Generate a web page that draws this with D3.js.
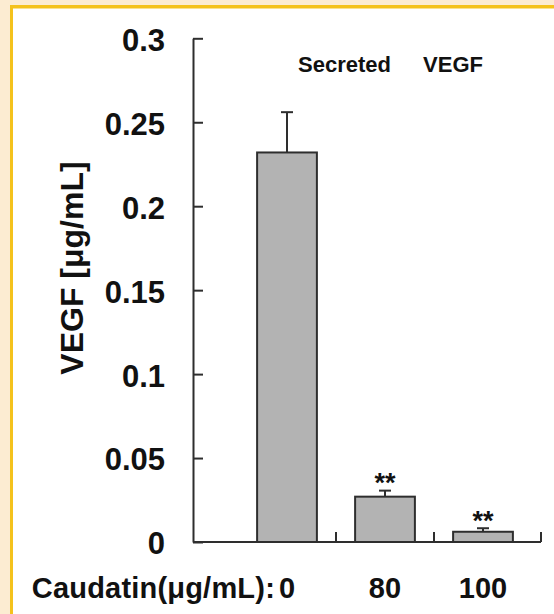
<!DOCTYPE html>
<html>
<head>
<meta charset="utf-8">
<script src="https://cdn.jsdelivr.net/npm/d3@7"></script>
<style>
  body { margin: 0; background: #fcecd2; }
  svg { display: block; font-family: "Liberation Sans", Arial, sans-serif; font-weight: bold; }
</style>
</head>
<body>
<div id="chart"></div>
<script>
// data
var categories = ["0", "80", "100"];
var means = [0.232, 0.027, 0.0061];
var errors = [0.024, 0.0036, 0.0021];
var marks = ["", "**", "**"];
var yTicks = [0, 0.05, 0.1, 0.15, 0.2, 0.25, 0.3];
var yTickLabels = ["0", "0.05", "0.1", "0.15", "0.2", "0.25", "0.3"];

var width = 554, height = 614;

var svg = d3.select("#chart").append("svg")
            .attr("width", width)
            .attr("height", height);

// frame: cream outside, yellow rule, white panel
svg.append("rect").attr("x", 10).attr("y", 5).attr("width", width - 10).attr("height", height - 5).attr("fill", "#f4c21c");
svg.append("rect").attr("x", 13).attr("y", 8.5).attr("width", width - 13).attr("height", height - 8.5).attr("fill", "#ffffff");

var x0 = 193, xEnd = 541;
var x = d3.scaleBand()
          .domain(categories)
          .range([238, 532])
          .padding(0);
var bw = x.step() * 0.61;

var y = d3.scaleLinear()
          .domain([0, 0.3])
          .range([542, 38.3]);

var ink = "#2e2e2e";

// y axis, ticks pointing inward
var yAxis = svg.append("g")
               .attr("transform", "translate(" + x0 + ",0)")
               .call(d3.axisRight(y).tickValues(yTicks).tickSize(10).tickSizeOuter(0).tickFormat(""));
yAxis.select(".domain").attr("stroke", ink).attr("stroke-width", 2);
yAxis.selectAll(".tick line").attr("stroke", ink).attr("stroke-width", 2);

svg.append("g").selectAll("text")
   .data(yTicks)
   .enter().append("text")
   .attr("x", 165)
   .attr("y", function(d) { return y(d); })
   .attr("dy", "0.4em")
   .attr("text-anchor", "end")
   .style("font-size", "31px")
   .attr("fill", "#111")
   .text(function(d, i) { return yTickLabels[i]; });

// x axis line with upward separators
svg.append("line")
   .attr("x1", x0).attr("x2", xEnd)
   .attr("y1", y(0)).attr("y2", y(0))
   .attr("stroke", ink).attr("stroke-width", 2);

var seps = categories.slice(1).map(function(c) { return x(c); });
seps.push(xEnd);
svg.append("g").selectAll("line")
   .data(seps)
   .enter().append("line")
   .attr("x1", function(d) { return d; })
   .attr("x2", function(d) { return d; })
   .attr("y1", y(0))
   .attr("y2", y(0) - 10)
   .attr("stroke", ink).attr("stroke-width", 2);

// bars
svg.append("g").selectAll("rect")
   .data(means)
   .enter().append("rect")
   .attr("x", function(d, i) { return x(categories[i]) + (x.step() - bw) / 2; })
   .attr("y", function(d) { return y(d); })
   .attr("width", bw)
   .attr("height", function(d) { return y(0) - y(d); })
   .attr("fill", "#b3b3b3")
   .attr("stroke", ink)
   .attr("stroke-width", 2);

// error bars (upper only)
var eb = svg.append("g").attr("stroke", ink).attr("stroke-width", 2);
means.forEach(function(m, i) {
	var cx = x(categories[i]) + x.step() / 2;
	eb.append("line").attr("x1", cx).attr("x2", cx).attr("y1", y(m)).attr("y2", y(m + errors[i]));
	eb.append("line").attr("x1", cx - 6).attr("x2", cx + 6).attr("y1", y(m + errors[i])).attr("y2", y(m + errors[i]));
});

// significance marks
svg.append("g").selectAll("text")
   .data(marks)
   .enter().append("text")
   .attr("x", function(d, i) { return x(categories[i]) + x.step() / 2; })
   .attr("y", function(d, i) { return y(means[i] + errors[i]) + 1.5; })
   .attr("text-anchor", "middle")
   .style("font-size", "27px")
   .attr("fill", "#111")
   .text(function(d) { return d; });

// category labels
svg.append("g").selectAll("text")
   .data(categories)
   .enter().append("text")
   .attr("x", function(d) { return x(d) + x.step() / 2; })
   .attr("y", 598)
   .attr("text-anchor", "middle")
   .style("font-size", "29px")
   .attr("fill", "#111")
   .text(function(d) { return d; });

svg.append("text")
   .attr("x", x(categories[0]) + x.step() / 2 - 12)
   .attr("y", 598)
   .attr("text-anchor", "end")
   .style("font-size", "29px")
   .style("letter-spacing", "0.2px")
   .attr("fill", "#111")
   .text("Caudatin(\u03bcg/mL):");

// y title
svg.append("text")
   .attr("transform", "translate(83,268) rotate(-90)")
   .attr("text-anchor", "middle")
   .style("font-size", "32px")
   .attr("fill", "#111")
   .text("VEGF [\u03bcg/mL]");

// panel title
svg.append("text").attr("x", 298).attr("y", 72).style("font-size", "22px").attr("fill", "#111").text("Secreted");
svg.append("text").attr("x", 483).attr("y", 72).attr("text-anchor", "end").style("font-size", "22px").attr("fill", "#111").text("VEGF");
</script>
</body>
</html>
